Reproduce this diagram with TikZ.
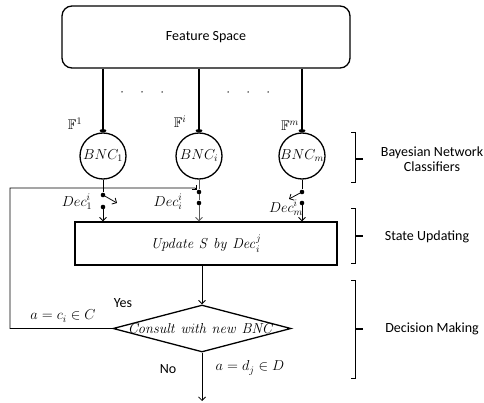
\documentclass[tikz,border=0pt]{standalone}
\usepackage[no-math]{fontspec}
\usepackage{amssymb}
\newfontfamily\labelfont{Carlito}
\usetikzlibrary{arrows.meta,shapes.geometric}

\begin{document}
\begin{tikzpicture}[x=1pt,y=-1pt,
  every node/.style={font=\fontsize{14}{15}\selectfont},
  sans/.style={font=\fontsize{14}{15}\selectfont\labelfont},
  frame/.style={draw,line width=1.3pt},
  bnc/.style={frame,circle,minimum size=46pt,inner sep=0pt},
  feed/.style={line width=2.6pt,-{To[length=3pt,width=7pt]}},
  thinline/.style={line width=0.8pt},
  arr/.style={thinline,-{Straight Barb[length=3.5pt,width=7pt]}},
  pin/.style={circle,fill,inner sep=0pt,minimum size=4.6pt},
  speck/.style={circle,fill,inner sep=0pt,minimum size=1.5pt},
  brk/.style={line width=1pt},
  brktick/.style={line width=1.7pt},
]
\useasboundingbox (0,0) rectangle (484,403);

% feature space and the classifiers fed from it
\node[frame,rounded corners=10pt,minimum width=288pt,minimum height=62pt,sans] (fs) at (206,37) {Feature Space};
\node[bnc] (b1) at (103,156) {$BNC_1$};
\node[bnc] (bi) at (199,156) {$BNC_i$};
\node[bnc] (bm) at (302,156) {$BNC_m$};
\draw[feed] (fs.south -| b1) -- (b1.north);
\draw[feed] (fs.south -| bi) -- (bi.north);
\draw[feed] (fs.south -| bm) -- (bm.north);

\node (f1) at (75,124) {$\mathbb{F}^1$};
\node (fi) at (180,122) {$\mathbb{F}^i$};
\node (fm) at (290,126) {$\mathbb{F}^m$};

\foreach \k/\x in {1/122,2/142,3/162,4/228,5/248,6/268}
  \node[speck] (gap\k) at (\x,92) {};

% update box and decision diamond
\node[frame,minimum width=262pt,minimum height=43pt] (up) at (206,243.5)
  {$\mathit{Update\ S\ by\ Dec}_i^j$};
\node[frame,diamond,minimum width=178pt,minimum height=47pt,inner sep=0pt] (dm) at (202,328.5) {};
\node (ask) at (201,328) {$\mathit{Consult\ with\ new\ BNC}$};

% switches below the classifiers
\node[pin] (u1) at (103,195) {};
\node[pin] (l1) at (103,207) {};
\node[pin] (ui) at (199,192) {};
\node[pin] (li) at (199,203) {};
\node[pin] (um) at (302,192) {};
\node[pin] (lm) at (302,203) {};
\coordinate (o1) at (117,203);
\coordinate (om) at (289,199);

\draw[thinline] (b1.south) -- (u1);
\draw[arr] (u1) -- (o1);
\draw[arr] (l1) -- (l1 |- up.north);

\draw[thinline,black!65] (bi.south) -- (ui) -- (li);
\draw[arr,black!65] (li) -- (li |- up.north);

\draw[thinline] (bm.south) -- (um);
\draw[arr] (um) -- (om);
\draw[arr] (lm) -- (lm |- up.north);

\node (dec1) at (77,202) {$Dec_1^i$};
\node (deci) at (168,202) {$Dec_i^i$};
\node (decm) at (286,208) {$Dec_m^i$};

% flow out of the update box and the feedback loop
\coordinate (fbx) at (10,0);
\coordinate (fbt) at (195,188);
\draw[arr] (dm.north |- up.south) -- (dm.north);
\draw[arr] (dm.west) -- (dm.west -| fbx) |- (fbt) -- (ui);
\coordinate (out) at (202,401);
\draw[arr] (dm.south) -- (out);

\node[sans] (yes) at (123,303) {Yes};
\node (ac) at (63,316) {$a = c_i \in C$};
\node[sans] (no) at (168,369) {No};
\node (ad) at (250,368) {$a = d_j \in D$};

% stage brackets
\draw[brk] (351,133) -- (355,133) -- (355,183) -- (351,183);
\draw[brktick] (355,159) -- (363,159);
\node[sans,align=center] (stage1) at (432,159.5) {Bayesian Network\\Classifiers};

\draw[brk] (351,209) -- (355,209) -- (355,263) -- (351,263);
\draw[brktick] (355,236) -- (363,236);
\node[sans] (stage2) at (427,237) {State Updating};

\draw[brk] (351,280) -- (355,280) -- (355,378) -- (351,378);
\draw[brktick] (355,329) -- (363,329);
\node[sans] (stage3) at (432,329) {Decision Making};
\end{tikzpicture}
\end{document}
